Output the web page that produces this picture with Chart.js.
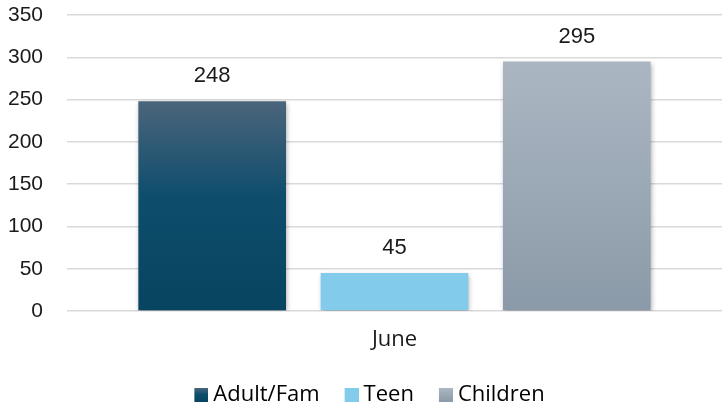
<!DOCTYPE html>
<html>
<head>
<meta charset="utf-8">
<script src="https://cdn.jsdelivr.net/npm/chart.js@4"></script>
<style>
  html, body { margin: 0; padding: 0; background: #fff; }
  #wrap { width: 722px; height: 408px; }
</style>
</head>
<body>
<div id="wrap"><canvas id="chart" width="722" height="408"></canvas></div>
<script>
// chart data
const categories = ['June'];
const seriesNames = ['Adult/Fam', 'Teen', 'Children'];
const adultFam = [248];
const teen = [45];
const children = [295];
const yMin = 0, yMax = 350, yStep = 50;

// gradient stops per series, top -> bottom
const seriesStops = [
  [[0, '#4b657b'], [0.45, '#0f4d6d'], [1, '#06445f']],
  [[0, '#83cbea'], [1, '#83cbea']],
  [[0, '#abb6c2'], [1, '#8b9aa8']]
];

function barGradient(i) {
  return (c) => {
    const chart = c.chart;
    const stops = seriesStops[i];
    if (!chart.chartArea || c.type !== 'data') return stops[0][1];
    const y = chart.scales.y;
    const yTop = y.getPixelForValue(c.parsed.y);
    const yBot = y.getPixelForValue(0);
    const g = chart.ctx.createLinearGradient(0, yTop, 0, yBot);
    stops.forEach(s => g.addColorStop(s[0], s[1]));
    return g;
  };
}

// soft drop shadow under the bars
const barShadow = {
  id: 'barShadow',
  beforeDatasetsDraw(chart) {
    const ctx = chart.ctx;
    ctx.save();
    ctx.shadowColor = 'rgba(0,0,0,0.35)';
    ctx.shadowBlur = 5;
    ctx.shadowOffsetX = 1;
    ctx.shadowOffsetY = 2;
  },
  afterDatasetsDraw(chart) {
    chart.ctx.restore();
  }
};

// value labels above each bar
const valueLabels = {
  id: 'valueLabels',
  afterDatasetsDraw(chart) {
    const ctx = chart.ctx;
    ctx.save();
    ctx.font = '22px "Liberation Sans", Arial, sans-serif';
    ctx.fillStyle = '#1a1a1a';
    ctx.textAlign = 'center';
    ctx.textBaseline = 'middle';
    chart.data.datasets.forEach((ds, i) => {
      chart.getDatasetMeta(i).data.forEach((bar, j) => {
        ctx.fillText(ds.data[j], bar.x, bar.y - 25);
      });
    });
    ctx.restore();
  }
};

// gradient square for the legend, sitting at the right end of a wider
// transparent canvas so the gap to the text stays tight
const LEG_BOX = 25;
const legendBox = (i) => {
  const c = document.createElement('canvas');
  c.width = LEG_BOX + 12; c.height = 14;
  const x = c.getContext('2d');
  const g = x.createLinearGradient(0, 0, 0, 14);
  seriesStops[i].forEach(s => g.addColorStop(s[0], s[1]));
  x.fillStyle = g;
  x.fillRect(c.width - 14, 0, 14, 14);
  return c;
};

new Chart(document.getElementById('chart'), {
  type: 'bar',
  data: {
    labels: categories,
    datasets: [
      { label: seriesNames[0], data: adultFam, backgroundColor: barGradient(0) },
      { label: seriesNames[1], data: teen, backgroundColor: barGradient(1) },
      { label: seriesNames[2], data: children, backgroundColor: barGradient(2) }
    ]
  },
  options: {
    responsive: false,
    animation: false,
    categoryPercentage: 0.835,
    barPercentage: 0.81,
    layout: { padding: { top: 15, right: 0, left: 0, bottom: -8 } },
    plugins: {
      tooltip: { enabled: false },
      legend: {
        position: 'bottom',
        labels: {
          color: '#1a1a1a',
          font: { family: '"Open Sans", sans-serif', size: 22 },
          boxWidth: LEG_BOX,
          pointStyleWidth: LEG_BOX,
          padding: 8,
          usePointStyle: true,
          generateLabels() {
            return seriesNames.map((n, i) => ({
              text: n,
              pointStyle: legendBox(i),
              fillStyle: seriesStops[i][1][1],
              strokeStyle: 'transparent',
              lineWidth: 0,
              datasetIndex: i
            }));
          }
        }
      }
    },
    scales: {
      x: {
        afterFit(scale) { scale.height = 65; },
        grid: { display: false, drawTicks: false },
        border: { display: false },
        ticks: {
          color: '#1a1a1a',
          padding: 15.5,
          font: { family: '"Open Sans", sans-serif', size: 22 }
        }
      },
      y: {
        min: yMin,
        max: yMax,
        afterFit(scale) {
          scale.width = 67;
          scale.paddingTop = 0;
          scale.paddingBottom = 0;
        },
        grid: { color: '#d9d9d9', lineWidth: 1.5, drawTicks: false },
        border: { display: false },
        ticks: {
          stepSize: yStep,
          padding: 24,
          color: '#1a1a1a',
          font: { family: '"Liberation Sans", Arial, sans-serif', size: 21 }
        }
      }
    }
  },
  plugins: [barShadow, valueLabels]
});
</script>
</body>
</html>
